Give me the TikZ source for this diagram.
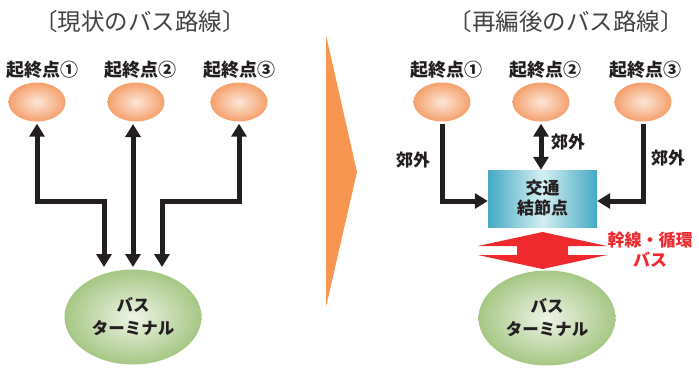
\documentclass[tikz,border=0pt]{standalone}
\usepackage{fontspec}
\newfontfamily\jp{Noto Sans CJK JP}
\usetikzlibrary{arrows.meta,shapes.geometric}
\definecolor{orng}{HTML}{F5A06C}
\definecolor{orngin}{HTML}{FCE6D8}
\definecolor{grn}{HTML}{A6C785}
\definecolor{grnin}{HTML}{EEF4E6}
\definecolor{teal}{HTML}{45A9C4}
\definecolor{tealin}{HTML}{D4EFF2}
\definecolor{bigarrow}{HTML}{F79650}
\definecolor{redarrow}{HTML}{EE2A2F}
\definecolor{txt}{HTML}{231F20}
\begin{document}
\begin{tikzpicture}[x=1pt,y=-1pt,
  title/.style={font=\jp\fontsize{23.5}{26}\selectfont, text=txt!85, inner sep=0},
  lbl/.style={font=\jp\bfseries\fontsize{18}{20}\selectfont, text=txt, inner sep=0},
  small/.style={font=\jp\bfseries\fontsize{17}{19}\selectfont, text=txt, inner sep=0},
  origin/.style={ellipse, minimum width=57pt, minimum height=39pt, inner sep=0, inner color=orngin, outer color=orng},
  term/.style={ellipse, minimum width=137pt, minimum height=95pt, inner sep=0, inner color=grnin, outer color=grn, align=center, font=\jp\bfseries\fontsize{16.5}{23}\selectfont, text=txt},
  hub/.style={rectangle, minimum width=109pt, minimum height=57pt, inner sep=0, left color=teal, right color=teal, middle color=tealin, align=center, font=\jp\bfseries\fontsize{17}{20}\selectfont, text=txt},
  dbl/.style={line width=5pt, draw=txt, line join=miter, {Triangle[width=15pt,length=13pt]}-{Triangle[width=15pt,length=13pt]}},
]
\useasboundingbox (0,0) rectangle (699,370);

% titles
\node[title] (tl) at (140,22) {〔現状のバス路線〕};
\node[title] (tr) at (566,22) {〔再編後のバス路線〕};

% big orange arrow
\fill[bigarrow] (326,35) -- (357,172) -- (326,307) -- cycle;

% ---------- left ----------
\node[lbl] (l1) at (42,70) {起終点①};
\node[lbl] (l2) at (140,70) {起終点②};
\node[lbl] (l3) at (239,70) {起終点③};
\node[origin] (o1) at (37,102) {};
\node[origin] (o2) at (136,102) {};
\node[origin] (o3) at (239,102) {};
\node[term] (T) at (133,317) {バス\\ターミナル};
\coordinate (t1) at (104,267);
\coordinate (t2) at (133,267);
\coordinate (t3) at (162,267);
\draw[dbl] ([yshift=-2pt]o1.south) -- ++(0,78) -| (t1);
\draw[dbl] (t2 |- 0,124) -- (t2);
\draw[dbl] ([yshift=-2pt]o3.south) -- ++(0,78) -| (t3);

% ---------- right ----------
\node[lbl] (r1l) at (446,70) {起終点①};
\node[lbl] (r2l) at (545,70) {起終点②};
\node[lbl] (r3l) at (645,70) {起終点③};
\node[origin] (r1) at (442,102) {};
\node[origin] (r2) at (541,102) {};
\node[origin] (r3) at (643,102) {};
\node[hub] (B) at (542.5,198.5) {交通\\結節点};
\node[term] (T2) at (547,318) {バス\\ターミナル};
\draw[dbl, -{Triangle[width=15pt,length=13pt]}] ([yshift=-2pt]r1.south) |- ([yshift=-2.5pt]B.west);
\draw[dbl] ([yshift=-2pt]r2.south) -- (r2.south |- B.north);
\draw[dbl, -{Triangle[width=15pt,length=13pt]}] ([yshift=-2pt]r3.south) |- ([yshift=-2.5pt]B.east);
\node[small] (s1) at (413,160) {郊外};
\node[small] (s2) at (568,142) {郊外};
\node[small] (s3) at (668,158) {郊外};

% red up-down arrow
\fill[redarrow] (542.5,232) -- (607,246) -- (568,246) -- (568,255) -- (607,255)
  -- (542.5,269) -- (478,255) -- (517,255) -- (517,246) -- (478,246) -- cycle;
\node[font=\jp\bfseries\fontsize{17}{20}\selectfont, text=redarrow, align=center, inner sep=0] (rt) at (650,250) {幹線・循環\\バス};
\end{tikzpicture}
\end{document}
